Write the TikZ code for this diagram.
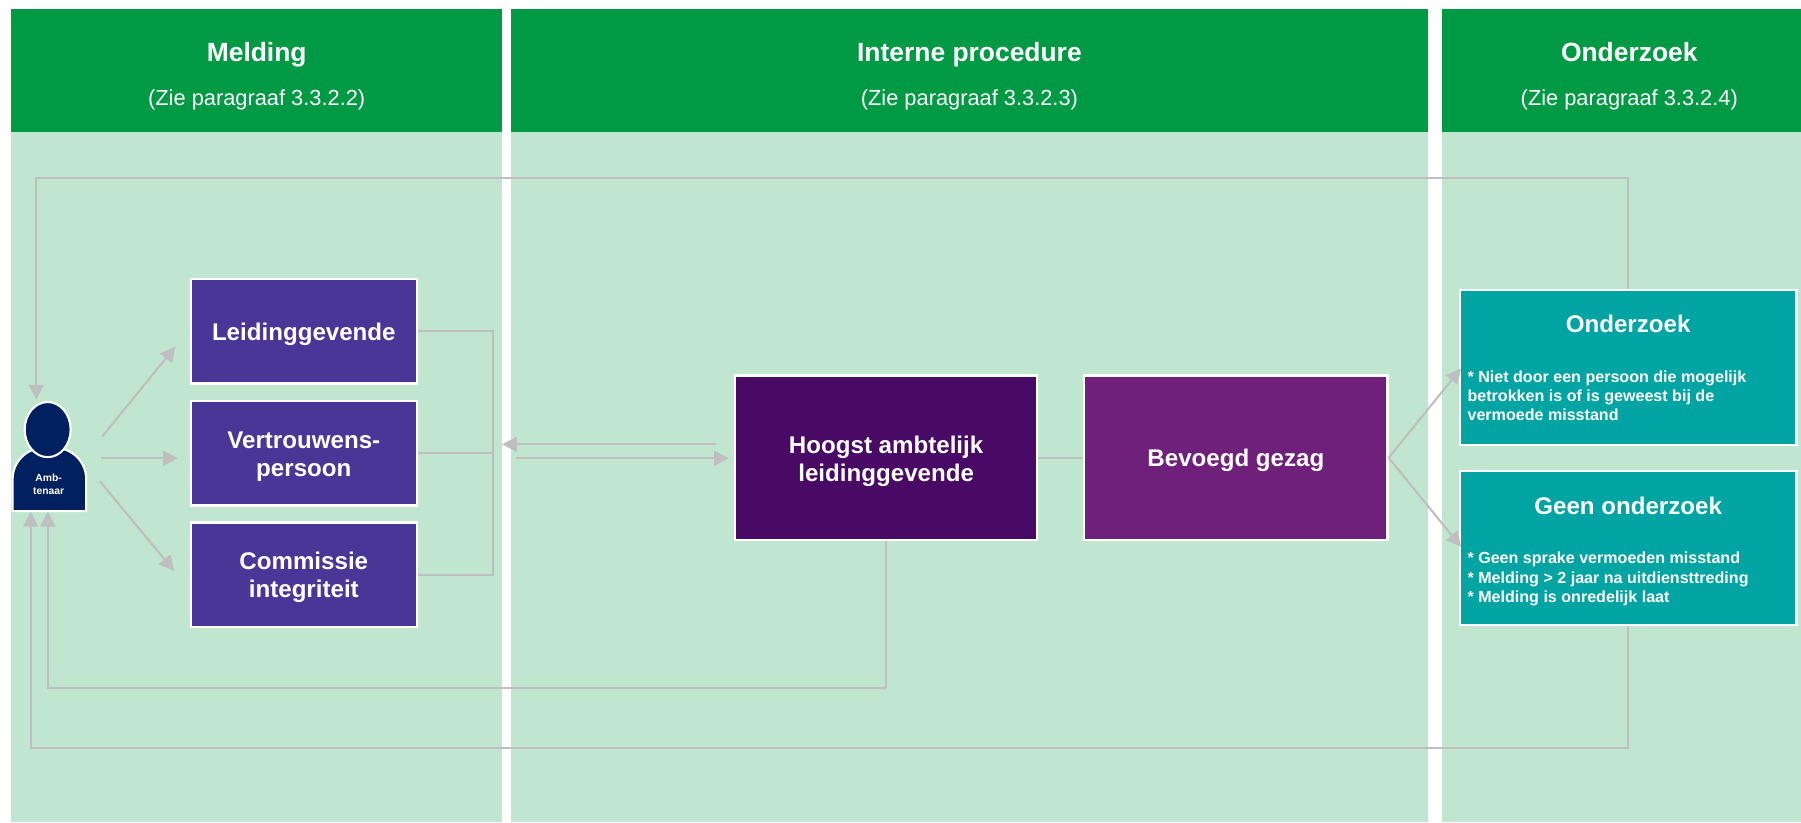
\documentclass[tikz,border=0pt]{standalone}
\usepackage{fontspec}
\setmainfont{Liberation Sans}
\usetikzlibrary{arrows.meta,shapes.geometric}
\definecolor{hdrgreen}{RGB}{0,154,68}
\definecolor{bodygreen}{RGB}{192,230,208}
\definecolor{boxpurple}{RGB}{74,54,151}
\definecolor{halpurple}{RGB}{72,10,100}
\definecolor{bgpurple}{RGB}{110,32,122}
\definecolor{tealbox}{RGB}{0,164,162}
\definecolor{navy}{RGB}{0,32,96}
\definecolor{lgray}{RGB}{191,191,191}
\begin{document}
\begin{tikzpicture}[x=1pt,y=-1pt,
  hdrtitle/.style={text=white,inner sep=0,anchor=base,font=\fontsize{23}{27}\selectfont\bfseries},
  hdrsub/.style={text=white,inner sep=0,anchor=base,font=\fontsize{19}{23}\selectfont},
  box/.style={draw=white,line width=2pt,inner sep=0},
  txt/.style={text=white,inner sep=0,anchor=base,font=\fontsize{21}{25}\selectfont\bfseries},
  small/.style={text=white,inner sep=0,anchor=base west,font=\fontsize{14}{17}\selectfont\bfseries},
  conn/.style={draw=lgray,line width=1.8pt},
  arr/.style={conn,-{Triangle[length=13pt,width=13pt]}}
]
\useasboundingbox (0,0) rectangle (1568,716);
\fill[white] (0,0) rectangle (1568,716);
% panels
\fill[hdrgreen] (10,8) rectangle (437,115);
\fill[hdrgreen] (445,8) rectangle (1243,115);
\fill[hdrgreen] (1255,8) rectangle (1568,115);
\fill[bodygreen] (10,115) rectangle (437,716);
\fill[bodygreen] (445,115) rectangle (1243,716);
\fill[bodygreen] (1255,115) rectangle (1568,716);
% headers
\node[hdrtitle] (h1) at (223.5,53.7) {Melding};
\node[hdrsub] (s1) at (223.5,91.5) {(Zie paragraaf 3.3.2.2)};
\node[hdrtitle] (h2) at (844,53.7) {Interne procedure};
\node[hdrsub] (s2) at (844,91.5) {(Zie paragraaf 3.3.2.3)};
\node[hdrtitle] (h3) at (1418.5,53.7) {Onderzoek};
\node[hdrsub] (s3) at (1418.5,91.5) {(Zie paragraaf 3.3.2.4)};

% person
\draw[fill=navy,draw=white,line width=1.8pt,rounded corners=27pt] (11,445) -- (11,390) -- (75,390) [sharp corners] -- (75,445) -- cycle;
\node[draw=white,line width=1.8pt,fill=navy,ellipse,minimum width=40pt,minimum height=48pt,inner sep=0] (head) at (41.5,374) {};
\node[text=white,inner sep=0,anchor=base,font=\fontsize{9}{11}\selectfont\bfseries] (p1) at (42.3,419.3) {Amb-};
\node[text=white,inner sep=0,anchor=base,font=\fontsize{9}{11}\selectfont\bfseries] (p2) at (42.3,430.4) {tenaar};

% melding boxes
\node[box,fill=boxpurple,minimum width=197pt,minimum height=91pt] (lg) at (264.5,288.5) {};
\node[txt] (lgT) at (264.5,296.5) {Leidinggevende};
\node[box,fill=boxpurple,minimum width=197pt,minimum height=91pt] (vp) at (264.5,394.5) {};
\node[txt] (vpT1) at (264.5,390.3) {Vertrouwens-};
\node[txt] (vpT2) at (264.5,415.2) {persoon};
\node[box,fill=boxpurple,minimum width=197pt,minimum height=91pt] (ci) at (264.5,500.5) {};
\node[txt] (ciT1) at (264.5,495.4) {Commissie};
\node[txt] (ciT2) at (264.5,520.3) {integriteit};

% interne procedure
\node[box,fill=halpurple,minimum width=263pt,minimum height=143pt] (hal) at (771.5,398.5) {};
\node[txt] (halT1) at (771.5,394.7) {Hoogst ambtelijk};
\node[txt] (halT2) at (771.5,419.4) {leidinggevende};
\node[box,fill=bgpurple,minimum width=264pt,minimum height=143pt] (bg) at (1076,398.5) {};
\node[txt] (bgT) at (1076,406.3) {Bevoegd gezag};

% onderzoek boxes
\node[box,fill=tealbox,minimum width=293pt,minimum height=135pt] (oz) at (1417.5,320) {};
\node[txt] (ozT) at (1417.5,289.6) {Onderzoek};
\node[small] (ozL1) at (1277.5,333.1) {* Niet door een persoon die mogelijk};
\node[small] (ozL2) at (1277.5,349.7) {betrokken is of is geweest bij de};
\node[small] (ozL3) at (1277.5,366.5) {vermoede misstand};
\node[box,fill=tealbox,minimum width=293pt,minimum height=134pt] (go) at (1417.5,477) {};
\node[txt] (goT) at (1417.5,448) {Geen onderzoek};
\node[small] (goL1) at (1277.5,491) {* Geen sprake vermoeden misstand};
\node[small] (goL2) at (1277.5,507.8) {* Melding > 2 jaar na uitdiensttreding};
\node[small] (goL3) at (1277.5,524.4) {* Melding is onredelijk laat};

% coordinates for free ends
\coordinate (a1s) at (89,380);   \coordinate (a1e) at (152.7,301.8);
\coordinate (a2s) at (88,399);   \coordinate (a2e) at (155,399);
\coordinate (a3s) at (87,419);   \coordinate (a3e) at (151.5,497);
\coordinate (br) at (429,394.5);
\coordinate (up1) at (623,386.8); \coordinate (up2) at (437,386.8);
\coordinate (lo1) at (449,399);   \coordinate (lo2) at (634.7,399);
\coordinate (topL) at (31.6,348);
\coordinate (botA) at (41.6,445.5);
\coordinate (botB) at (26.7,445.5);
\coordinate (ozA) at (1272,320.7);
\coordinate (goA) at (1272,476);

% person -> boxes
\draw[arr] (a1s) -- (a1e);
\draw[arr] (a2s) -- (a2e);
\draw[arr] (a3s) -- (a3e);
% bracket
\draw[conn] (lg.east) -- (429,288.5) -- (429,500.5) -- (ci.east);
\draw[conn] (vp.east) -- (br);
% double arrows
\draw[arr] (up1) -- (up2);
\draw[arr] (lo1) -- (lo2);
% hal -> bg
\draw[conn] (hal.east) -- (bg.west);
% bg -> onderzoek
\draw[arr] (bg.east) -- (ozA);
\draw[arr] (bg.east) -- (goA);
% loops
\draw[arr] (oz.north) -- (1417.5,155) -- (31.6,155) -- (topL);
\draw[arr] (hal.south) -- (771.5,599) -- (41.6,599) -- (botA);
\draw[arr] (go.south) -- (1417.5,651) -- (26.7,651) -- (botB);
\end{tikzpicture}
\end{document}
